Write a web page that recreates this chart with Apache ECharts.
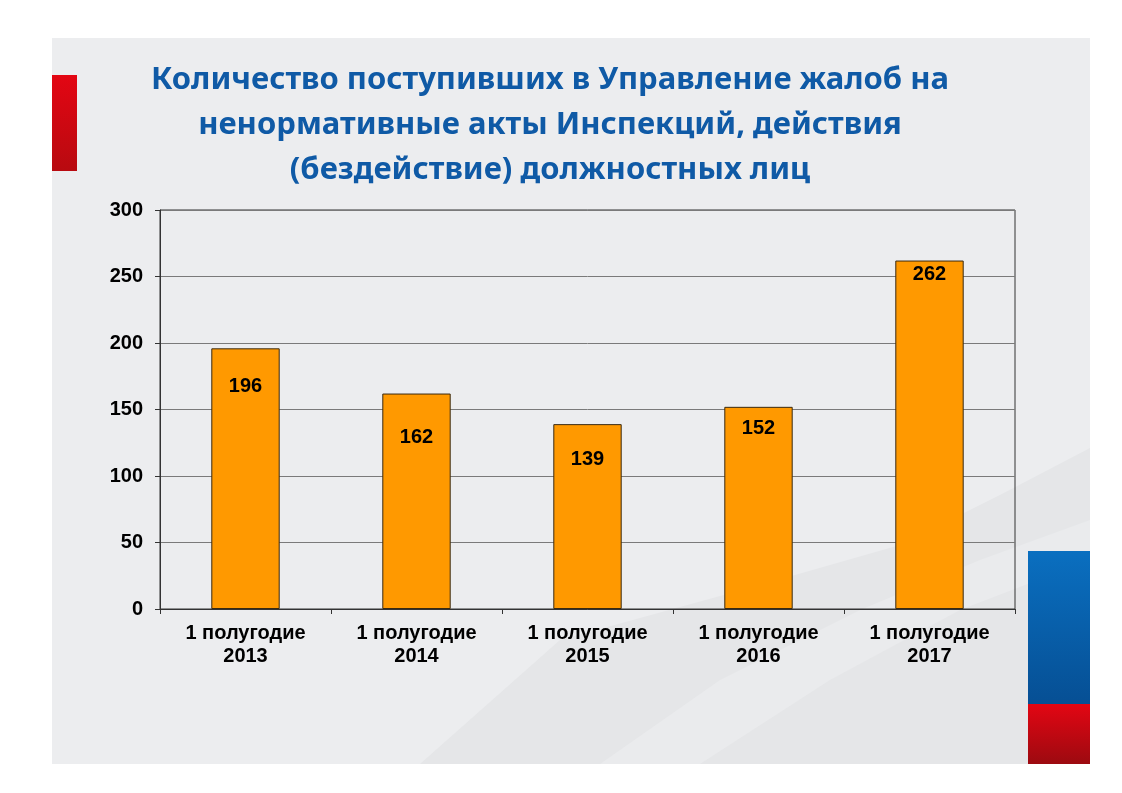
<!DOCTYPE html>
<html>
<head>
<meta charset="utf-8">
<script src="https://cdn.jsdelivr.net/npm/echarts@6/dist/echarts.min.js"></script>
<style>
  html, body { margin: 0; padding: 0; background: #fff; }
  #chart { width: 1122px; height: 793px; }
</style>
</head>
<body>
<div id="chart"></div>
<script>
// данные графика
const periods = ["1 полугодие 2013", "1 полугодие 2014", "1 полугодие 2015", "1 полугодие 2016", "1 полугодие 2017"];
const complaints = [196, 162, 139, 152, 262];
const yTicks = [0, 50, 100, 150, 200, 250, 300];

const titleText = "Количество поступивших в Управление жалоб на\nненормативные акты Инспекций, действия\n(бездействие) должностных лиц";

// подписи внутри столбцов сдвинуты вручную, как на слайде
const labelGap = [28, 34, 25, 12, 4];

const chart = echarts.init(document.getElementById("chart"));

const option = {
  backgroundColor: "#ffffff",
  animation: false,
  graphic: [
    // фон слайда
    { type: "rect", z: -10, shape: { x: 52, y: 38, width: 1038, height: 726 }, style: { fill: "#ecedef" } },
    // светлая "волна" справа снизу
    {
      type: "polygon", z: -9,
      shape: { points: [[560, 640], [760, 585], [900, 545], [1000, 495], [1090, 448], [1090, 764], [420, 764]] },
      style: { fill: "#e5e6e8" }
    },
    {
      type: "polygon", z: -9,
      shape: { points: [[1090, 520], [980, 560], [860, 610], [720, 680], [600, 764], [700, 764], [830, 680], [960, 610], [1090, 560]] },
      style: { fill: "#eaebed" }
    },
    // красная полоска слева
    {
      type: "rect", z: -5, shape: { x: 52, y: 75, width: 25, height: 96 },
      style: { fill: new echarts.graphic.LinearGradient(0, 0, 0, 1, [{ offset: 0, color: "#e30613" }, { offset: 1, color: "#b80a10" }]) }
    },
    // флаг справа
    {
      type: "rect", z: -5, shape: { x: 1028, y: 551, width: 62, height: 153 },
      style: { fill: new echarts.graphic.LinearGradient(0, 0, 0, 1, [{ offset: 0, color: "#0a6fc0" }, { offset: 1, color: "#064f94" }]) }
    },
    {
      type: "rect", z: -5, shape: { x: 1028, y: 704, width: 62, height: 60 },
      style: { fill: new echarts.graphic.LinearGradient(0, 0, 0, 1, [{ offset: 0, color: "#e30613" }, { offset: 1, color: "#9c0a10" }]) }
    }
  ],
  title: {
    text: titleText,
    left: 545,
    top: 53,
    textAlign: "center",
    textStyle: {
      fontFamily: "Noto Sans",
      fontWeight: "bold",
      fontSize: 31,
      lineHeight: 45,
      color: "#0f5aa6"
    }
  },
  grid: {
    left: 160,
    right: 107,
    top: 210,
    bottom: 184,
    show: true,
    borderColor: "#333",
    borderWidth: 1,
    backgroundColor: "transparent"
  },
  xAxis: {
    type: "category",
    data: periods,
    axisLine: { show: true, lineStyle: { color: "#333", width: 1 } },
    axisTick: { show: true, alignWithLabel: false, length: 5, lineStyle: { color: "#333" } },
    axisLabel: {
      interval: 0,
      margin: 13,
      fontFamily: "Liberation Sans",
      fontWeight: "bold",
      fontSize: 20,
      lineHeight: 23,
      color: "#000",
      formatter: (v) => v.replace(/ (\d{4})$/, "\n$1")
    }
  },
  yAxis: {
    type: "value",
    min: yTicks[0],
    max: yTicks[yTicks.length - 1],
    interval: 50,
    axisLine: { show: true, lineStyle: { color: "#333", width: 1 } },
    axisTick: { show: true, length: 5, lineStyle: { color: "#333" } },
    splitLine: { show: true, lineStyle: { color: "#7a7a7a", width: 1 } },
    axisLabel: {
      margin: 17,
      fontFamily: "Liberation Sans",
      fontWeight: "bold",
      fontSize: 20,
      color: "#000"
    }
  },
  series: [
    {
      type: "bar",
      barWidth: "40%",
      itemStyle: { color: "#ff9900", borderColor: "#3a2a10", borderWidth: 1 },
      label: {
        show: true,
        position: "insideTop",
        fontFamily: "Liberation Sans",
        fontWeight: "bold",
        fontSize: 20,
        color: "#000"
      },
      data: complaints.map((v, i) => ({ value: v, label: { distance: labelGap[i] } }))
    }
  ]
};

chart.setOption(option);
</script>
</body>
</html>
